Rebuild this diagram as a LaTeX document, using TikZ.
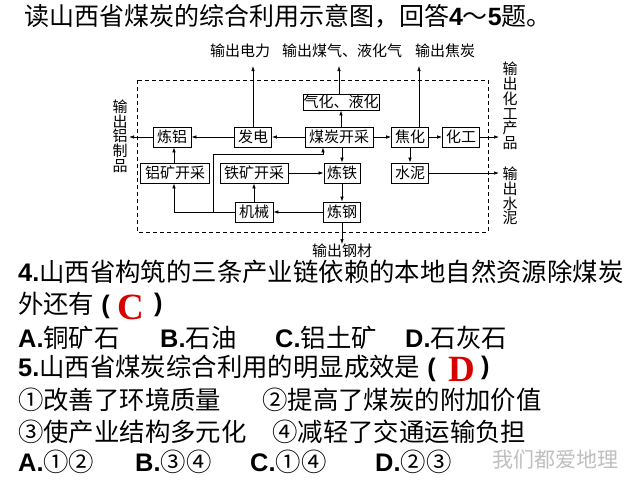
\documentclass[tikz,border=0pt]{standalone}
\usepackage{fontspec}
\setmainfont{Liberation Sans}
\newfontfamily\cjk{Noto Sans CJK SC}
\newfontfamily\arialf{Liberation Sans}
\newfontfamily\serifr{Liberation Serif}
\usetikzlibrary{arrows.meta}
\begin{document}
\begin{tikzpicture}[x=1pt,y=-1pt,
  box/.style={draw,line width=0.8pt,inner sep=0pt,minimum height=20pt,font=\cjk\fontsize{15}{15}\selectfont},
  arr/.style={line width=0.7pt,-{Latex[length=5pt,width=3.5pt]}},
  lbl/.style={inner sep=0pt,font=\cjk\fontsize{15}{15}\selectfont},
  vlbl/.style={inner sep=0pt,align=center,font=\cjk\fontsize{15}{14.7}\selectfont},
  q/.style={anchor=west,inner sep=0pt,font=\cjk\fontsize{25.4}{26}\selectfont},
  ans/.style={inner sep=0pt,text=red!85!black,font=\serifr\bfseries\fontsize{37}{37}\selectfont}]
\useasboundingbox (0,0) rectangle (640,480);
\fill[white] (0,0) rectangle (640,480);
% title
\node[inner sep=0pt,font=\cjk\fontsize{25}{25}\selectfont] (title) at (288,16)
  {读山西省煤炭的综合利用示意图，回答{\arialf\bfseries 4}～{\arialf\bfseries 5}题。};
% dashed frame
\draw[dashed,line width=0.8pt,dash pattern=on 4pt off 3pt] (137,80) rectangle (488,232);
% boxes
\node[box,minimum width=76pt,minimum height=16pt] (qihua) at (341,102) {气化、液化};
\node[box,minimum width=38pt] (lianlv) at (172,137) {炼铝};
\node[box,minimum width=37pt] (fadian) at (253,137) {发电};
\node[box,minimum width=68pt] (meitan) at (339,137) {煤炭开采};
\node[box,minimum width=37pt] (jiaohua) at (410,137) {焦化};
\node[box,minimum width=37pt] (huagong) at (461,137) {化工};
\node[box,minimum width=69pt] (lvkuang) at (175,173) {铝矿开采};
\node[box,minimum width=68pt] (tiekuang) at (254,173) {铁矿开采};
\node[box,minimum width=36pt] (liantie) at (342,173) {炼铁};
\node[box,minimum width=37pt] (shuini) at (410,173) {水泥};
\node[box,minimum width=38pt] (jixie) at (254,212) {机械};
\node[box,minimum width=37pt] (liangang) at (342,212) {炼钢};
% outside labels
\node[lbl] (odl) at (240,51) {输出电力};
\node[lbl] (omq) at (342,51) {输出煤气、液化气};
\node[lbl] (ojt) at (445,51) {输出焦炭};
\node[lbl] (ogc) at (342,251) {输出钢材};
\node[vlbl] (olv) at (120,136) {输\\出\\铝\\制\\品};
\node[vlbl] (ohg) at (510,106) {输\\出\\化\\工\\产\\品};
\node[vlbl] (osn) at (510,196) {输\\出\\水\\泥};
\coordinate (tdl) at (253,66);
\coordinate (tmq) at (339,66);
\coordinate (tjt) at (419,66);
\coordinate (tlv) at (129,137);
\coordinate (thg) at (499,137);
\coordinate (tsn) at (499,173);
\coordinate (tgc) at (342,244);
\coordinate (j) at (213,212);
\coordinate (k) at (323,154);
% connectors
\draw[arr] (fadian.north) -- (tdl);
\draw[arr] (qihua.north -| tmq) -- (tmq);
\draw[arr] (jiaohua.north -| tjt) -- (tjt);
\draw[arr] (meitan.north -| qihua.south) -- (qihua.south);
\draw[arr] (meitan.west) -- (fadian.east);
\draw[arr] (fadian.west) -- (lianlv.east);
\draw[arr] (lianlv.west) -- (tlv);
\draw[arr] (meitan.east) -- (jiaohua.west);
\draw[arr] (jiaohua.east) -- (huagong.west);
\draw[arr] (huagong.east) -- (thg);
\draw[arr] (jiaohua.south) -- (shuini.north);
\draw[arr] (shuini.east) -- (tsn);
\draw[arr] (meitan.south -| liantie.north) -- (liantie.north);
\draw[arr] (tiekuang.east) -- (liantie.west);
\draw[arr] (liantie.south) -- (liangang.north);
\draw[arr] (liangang.west) -- (jixie.east);
\draw[arr] (liangang.south) -- (tgc);
\draw[arr] (jixie.north) -- (tiekuang.south);
\draw[arr] ([xshift=-1pt]lvkuang.north) -- ([xshift=-1pt]lvkuang.north |- lianlv.south);
\draw[arr] (jixie.west) -| ([xshift=-1pt]lvkuang.south);
\draw[arr] (j) |- (k) -- (k |- meitan.south);
% questions
\node[q] (q4a) at (18,272) {{\arialf\bfseries 4.}山西省构筑的三条产业链依赖的本地自然资源除煤炭};
\node[q] (q4b) at (18,305) {外还有{\arialf\bfseries\ (}};
\node[ans] (ansc) at (131,307) {C};
\node[q] (q4c) at (154,305) {{\arialf\bfseries )}};
\node[q] (q4A) at (18,338) {{\arialf\bfseries A.}铜矿石};
\node[q] (q4B) at (160,338) {{\arialf\bfseries B.}石油};
\node[q] (q4C) at (275,338) {{\arialf\bfseries C.}铝土矿};
\node[q] (q4D) at (405,338) {{\arialf\bfseries D.}石灰石};
\node[q] (q5a) at (18,368) {{\arialf\bfseries 5.}山西省煤炭综合利用的明显成效是{\arialf\bfseries\ (}};
\node[ans] (ansd) at (462,369) {D};
\node[q] (q5b) at (481,368) {{\arialf\bfseries )}};
\node[q] (o1) at (18,400) {①改善了环境质量};
\node[q] (o2) at (262,400) {②提高了煤炭的附加价值};
\node[q] (o3) at (18,432) {③使产业结构多元化};
\node[q] (o4) at (272,432) {④减轻了交通运输负担};
\node[q] (c1) at (18,462) {{\arialf\bfseries A.}①②};
\node[q] (c2) at (135,462) {{\arialf\bfseries B.}③④};
\node[q] (c3) at (250,462) {{\arialf\bfseries C.}①④};
\node[q] (c4) at (375,462) {{\arialf\bfseries D.}②③};
\node[anchor=west,inner sep=0pt,text=black!25,font=\cjk\fontsize{21}{21}\selectfont] (wm) at (492,460) {我们都爱地理};
\end{tikzpicture}
\end{document}
